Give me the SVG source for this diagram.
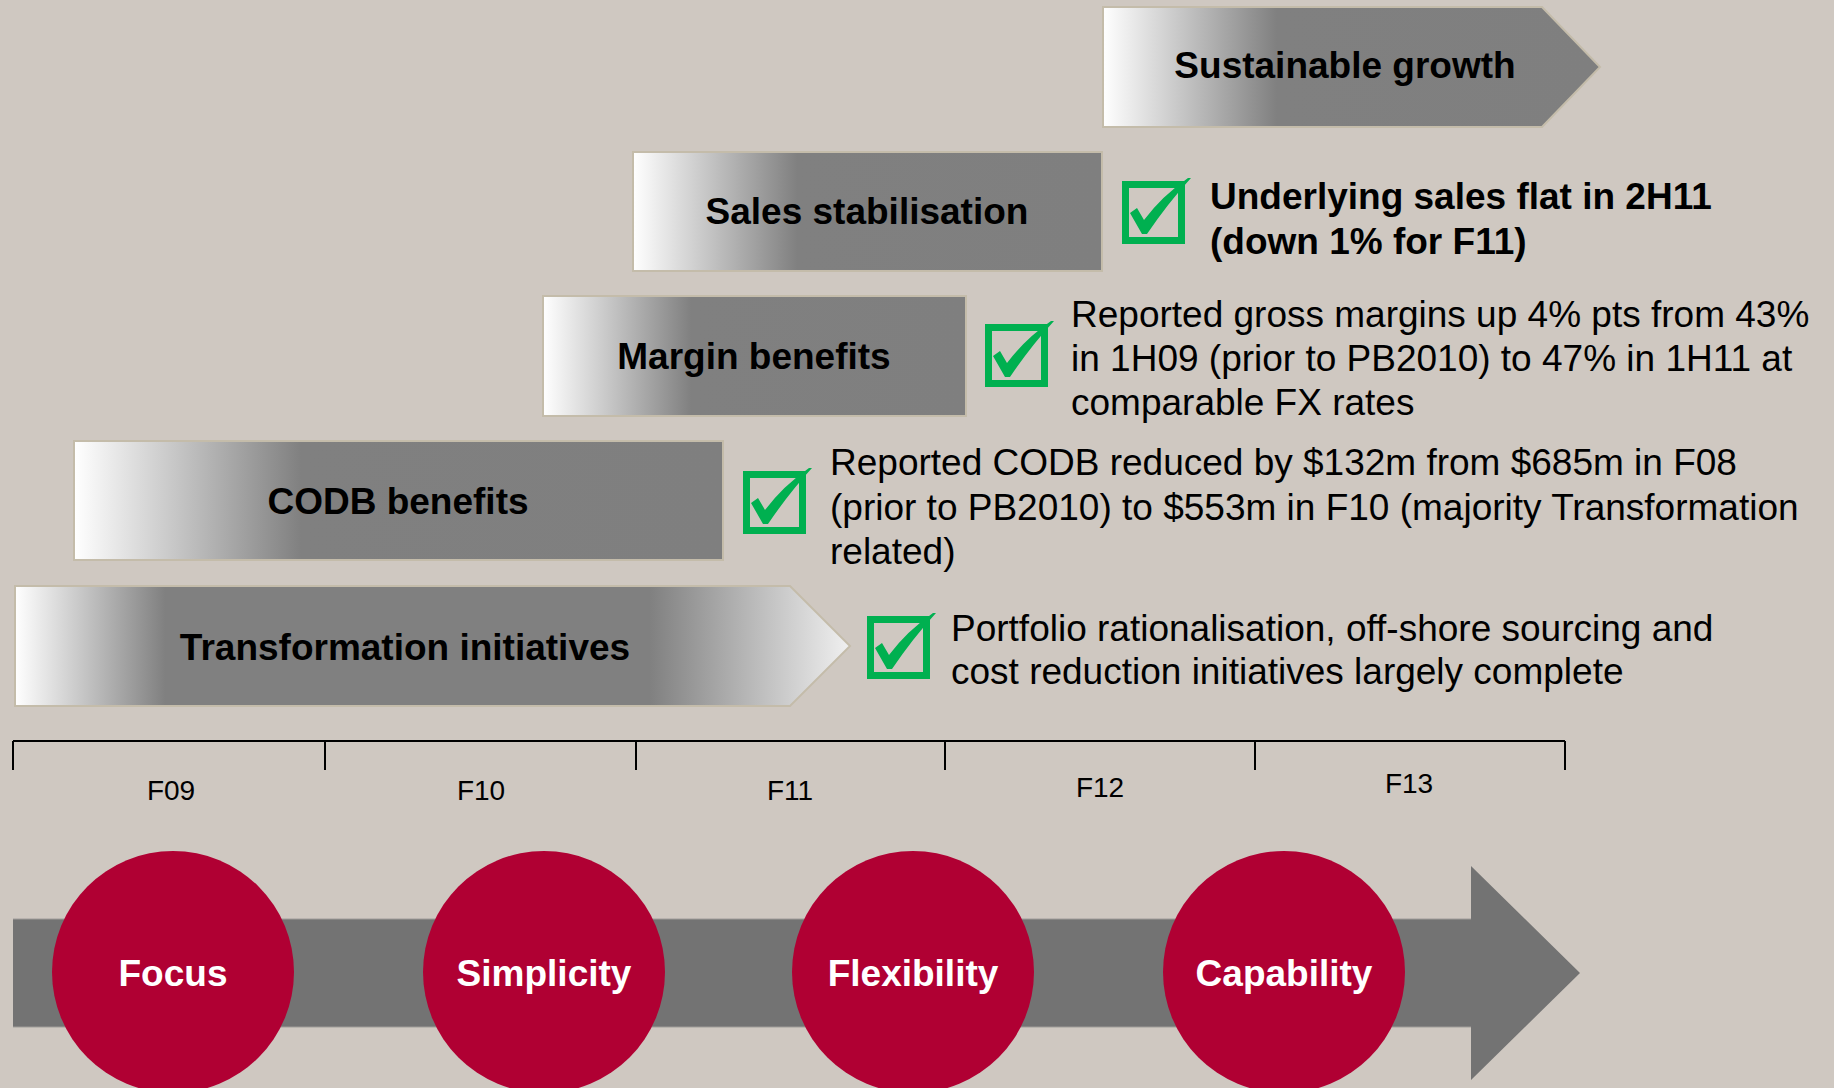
<svg xmlns="http://www.w3.org/2000/svg" xmlns:xlink="http://www.w3.org/1999/xlink" width="1834" height="1088" viewBox="0 0 1834 1088">
  <defs>
    <linearGradient id="fadeIn" x1="0" y1="0" x2="1" y2="0">
      <stop offset="0" stop-color="#ffffff"/>
      <stop offset="0.35" stop-color="#808080"/>
      <stop offset="1" stop-color="#7f7f7f"/>
    </linearGradient>
    <linearGradient id="fadeBoth" x1="0" y1="0" x2="1" y2="0">
      <stop offset="0" stop-color="#ffffff"/>
      <stop offset="0.18" stop-color="#808080"/>
      <stop offset="0.76" stop-color="#808080"/>
      <stop offset="1" stop-color="#f0f0f0"/>
    </linearGradient>
    <g id="tick">
      <rect x="3.5" y="3.5" width="56" height="56" fill="none" stroke="#00b050" stroke-width="7"/>
      <path d="M8,32 L15,27 L22,39 Q40,15 66,-3 L69,-3 Q46,22 25,53 L20,53 Z" fill="#00b050"/>
    </g>
    <style>
      .bar { stroke: #c4bcaa; stroke-width: 2; }
      .lbl { font-family: "Liberation Sans", Arial, sans-serif; font-weight: bold; font-size: 37px; fill: #000; text-anchor: middle; }
      .note { font-family: "Liberation Sans", Arial, sans-serif; font-size: 37px; fill: #000; }
      .noteB { font-family: "Liberation Sans", Arial, sans-serif; font-size: 37px; font-weight: bold; fill: #000; }
      .yr { font-family: "Liberation Sans", Arial, sans-serif; font-size: 28px; fill: #000; text-anchor: middle; }
      .val { fill: #b00033; }
      .valtxt { font-family: "Liberation Sans", Arial, sans-serif; font-weight: bold; font-size: 37px; fill: #fff; text-anchor: middle; }
      .axis { stroke: #000; stroke-width: 2; fill: none; }
    </style>
  </defs>

  <!-- backdrop -->
  <rect width="1834" height="1088" fill="#cfc8c1"/>

  <!-- stage bars -->
  <g id="sustainable-growth">
    <polygon class="bar" points="1103,7 1542,7 1600,67 1542,127 1103,127" fill="url(#fadeIn)"/>
    <text class="lbl" x="1345" y="78">Sustainable growth</text>
  </g>

  <g id="sales-stabilisation">
    <rect class="bar" x="633" y="152" width="469" height="119" fill="url(#fadeIn)"/>
    <text class="lbl" x="867" y="224">Sales stabilisation</text>
  </g>

  <g id="margin-benefits">
    <rect class="bar" x="543" y="296" width="423" height="120" fill="url(#fadeIn)"/>
    <text class="lbl" x="754" y="369">Margin benefits</text>
  </g>

  <g id="codb-benefits">
    <rect class="bar" x="74" y="441" width="649" height="119" fill="url(#fadeIn)"/>
    <text class="lbl" x="398" y="514">CODB benefits</text>
  </g>

  <g id="transformation-initiatives">
    <polygon class="bar" points="15,586 790,586 850,646 790,706 15,706" fill="url(#fadeBoth)"/>
    <text class="lbl" x="405" y="660">Transformation initiatives</text>
  </g>

  <!-- achievements -->
  <g id="sales-result">
    <use xlink:href="#tick" x="1122" y="181"/>
    <text class="noteB" x="1210" y="209">Underlying sales flat in 2H11</text>
    <text class="noteB" x="1210" y="254">(down 1% for F11)</text>
  </g>

  <g id="margin-result">
    <use xlink:href="#tick" x="985" y="324"/>
    <text class="note" x="1071" y="327">Reported gross margins up 4% pts from 43%</text>
    <text class="note" x="1071" y="371">in 1H09 (prior to PB2010) to 47% in 1H11 at</text>
    <text class="note" x="1071" y="415">comparable FX rates</text>
  </g>

  <g id="codb-result">
    <use xlink:href="#tick" x="743" y="471"/>
    <text class="note" x="830" y="475">Reported CODB reduced by $132m from $685m in F08</text>
    <text class="note" x="830" y="520">(prior to PB2010) to $553m in F10 (majority Transformation</text>
    <text class="note" x="830" y="564">related)</text>
  </g>

  <g id="transformation-result">
    <use xlink:href="#tick" x="867" y="616"/>
    <text class="note" x="951" y="641">Portfolio rationalisation, off-shore sourcing and</text>
    <text class="note" x="951" y="684">cost reduction initiatives largely complete</text>
  </g>

  <!-- year scale -->
  <g id="timeline">
    <path class="axis" d="M13,741 H1565 M13,741 V770 M325,741 V770 M636,741 V770 M945,741 V770 M1255,741 V770 M1565,741 V770"/>
    <text class="yr" x="171" y="800">F09</text>
    <text class="yr" x="481" y="800">F10</text>
    <text class="yr" x="790" y="800">F11</text>
    <text class="yr" x="1100" y="797">F12</text>
    <text class="yr" x="1409" y="793">F13</text>
  </g>

  <!-- values arrow -->
  <g id="values-arrow">
    <polygon points="13,919 1471,919 1471,866 1580,973 1471,1080 1471,1027 13,1027" fill="#737373"/>
    <line x1="13" y1="919" x2="1471" y2="919" stroke="#a09d9a" stroke-width="1"/>
    <line x1="13" y1="1027" x2="1471" y2="1027" stroke="#a09d9a" stroke-width="1"/>
  </g>

  <g id="focus">
    <circle class="val" cx="173" cy="972" r="121"/>
    <text class="valtxt" x="173" y="986">Focus</text>
  </g>
  <g id="simplicity">
    <circle class="val" cx="544" cy="972" r="121"/>
    <text class="valtxt" x="544" y="986">Simplicity</text>
  </g>
  <g id="flexibility">
    <circle class="val" cx="913" cy="972" r="121"/>
    <text class="valtxt" x="913" y="986">Flexibility</text>
  </g>
  <g id="capability">
    <circle class="val" cx="1284" cy="972" r="121"/>
    <text class="valtxt" x="1284" y="986">Capability</text>
  </g>
</svg>
